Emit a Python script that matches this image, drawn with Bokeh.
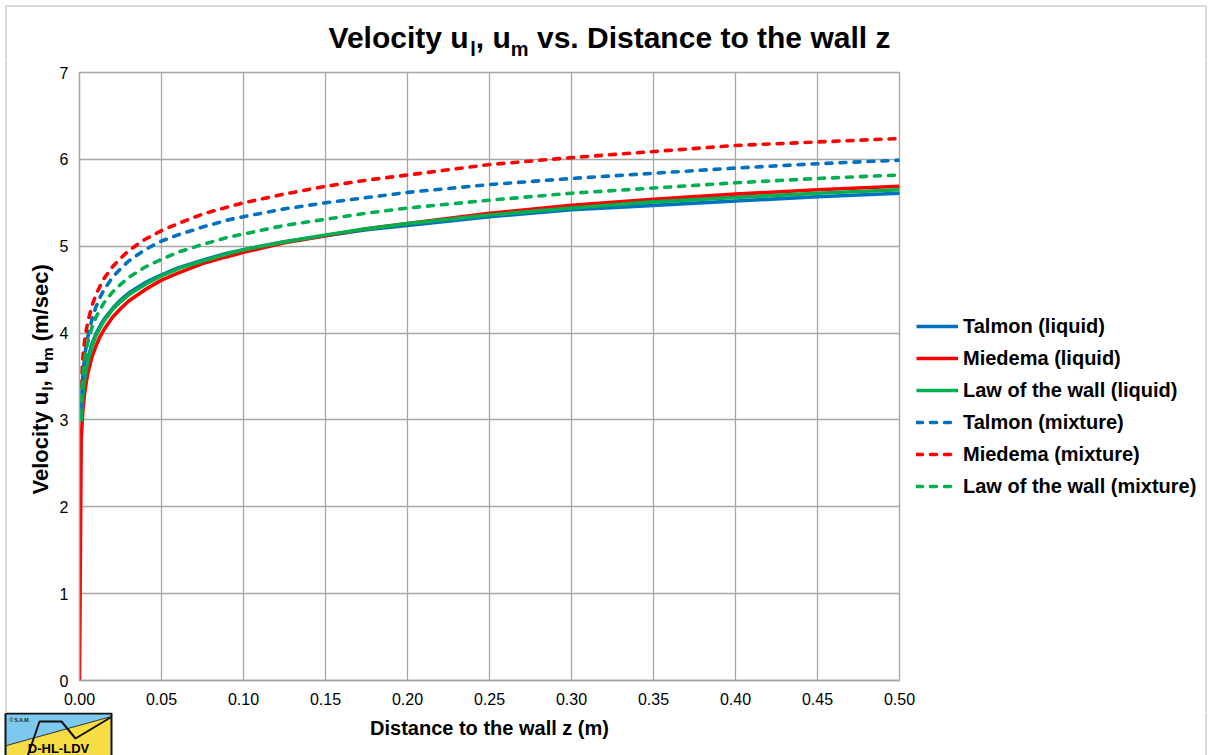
from bokeh.plotting import figure
from bokeh.layouts import column, row
from bokeh.models import Range1d, FixedTicker, NumeralTickFormatter, Legend, LegendItem, Plot
from bokeh.core.properties import value
from bokeh.embed import file_html
from bokeh.resources import INLINE

# ---------------- data ----------------
z = [0.001, 0.002, 0.003, 0.004, 0.005, 0.0075, 0.01, 0.0125, 0.015, 0.02, 0.025, 0.03,
     0.04, 0.05, 0.06, 0.075, 0.09, 0.10, 0.125, 0.15, 0.175, 0.20, 0.25, 0.30, 0.35,
     0.40, 0.45, 0.50]
z_miedema_liquid = [0.0] + z

talmon_liquid = [3.03, 3.32, 3.49, 3.61, 3.70, 3.87, 3.99, 4.08, 4.16, 4.28, 4.38, 4.46,
                 4.58, 4.67, 4.75, 4.84, 4.92, 4.96, 5.05, 5.12, 5.19, 5.24, 5.34, 5.42,
                 5.47, 5.52, 5.57, 5.61]
miedema_liquid = [0.00, 2.77, 3.10, 3.29, 3.42, 3.53, 3.72, 3.85, 3.96, 4.04, 4.18, 4.28,
                  4.37, 4.50, 4.61, 4.69, 4.80, 4.88, 4.93, 5.04, 5.12, 5.20, 5.26, 5.38,
                  5.47, 5.54, 5.60, 5.65, 5.69]
law_liquid = [2.98, 3.28, 3.45, 3.57, 3.67, 3.84, 3.97, 4.06, 4.14, 4.27, 4.36, 4.44,
              4.56, 4.66, 4.74, 4.83, 4.91, 4.96, 5.05, 5.13, 5.20, 5.26, 5.36, 5.44,
              5.51, 5.56, 5.61, 5.65]
talmon_mixture = [3.15, 3.49, 3.70, 3.84, 3.95, 4.15, 4.30, 4.41, 4.50, 4.64, 4.74, 4.83,
                  4.96, 5.06, 5.13, 5.22, 5.30, 5.34, 5.43, 5.50, 5.56, 5.62, 5.71, 5.78,
                  5.84, 5.90, 5.95, 5.99]
miedema_mixture = [3.38, 3.70, 3.89, 4.02, 4.12, 4.31, 4.44, 4.54, 4.63, 4.76, 4.86, 4.95,
                   5.08, 5.18, 5.26, 5.37, 5.45, 5.50, 5.60, 5.69, 5.76, 5.82, 5.94, 6.02,
                   6.09, 6.16, 6.20, 6.24]
law_mixture = [3.21, 3.50, 3.67, 3.79, 3.89, 4.06, 4.18, 4.27, 4.35, 4.47, 4.56, 4.64,
               4.76, 4.85, 4.93, 5.02, 5.10, 5.14, 5.24, 5.31, 5.38, 5.44, 5.53, 5.61,
               5.67, 5.73, 5.78, 5.82]

x_ticks = [0.00, 0.05, 0.10, 0.15, 0.20, 0.25, 0.30, 0.35, 0.40, 0.45, 0.50]
y_ticks = [0, 1, 2, 3, 4, 5, 6, 7]

series_labels = ["Talmon (liquid)", "Miedema (liquid)", "Law of the wall (liquid)",
                 "Talmon (mixture)", "Miedema (mixture)", "Law of the wall (mixture)"]

BLUE, RED, GREEN = "#0070C0", "#FF0000", "#00B050"
series_colors = [BLUE, RED, GREEN, BLUE, RED, GREEN]
series_dashed = [False, False, False, True, True, True]
series_z = [z, z_miedema_liquid, z, z, z, z]
series_u = [talmon_liquid, miedema_liquid, law_liquid, talmon_mixture, miedema_mixture,
            law_mixture]
GRID = "#A6A6A6"
BORDER = "#B4B4B4"
FONT = "Liberation Sans"
LW = 3.6
DASH = "6 8"

# Arial / Liberation Sans Bold advance widths (per 1000 em) for text layout
W = {" ": 278, "(": 333, ")": 333, ",": 278, ".": 278, "/": 278, "D": 722, "L": 611,
     "V": 667, "a": 556, "c": 556, "d": 611, "e": 556, "f": 333, "h": 611, "i": 278,
     "l": 278, "m": 889, "n": 611, "o": 611, "q": 611, "r": 389, "s": 556, "t": 333,
     "u": 611, "v": 556, "w": 778, "x": 556, "y": 556, "z": 500}
MID = 0.3465  # distance from alphabetic baseline to the em-box middle, in em

# vertical borders of the main chart in the middle row
B_TOP, B_BOTTOM = 12, 32
ROW_Y0, ROW_H = 60, 652          # the row spans page y 60..712
FRAME_TOP = ROW_Y0 + B_TOP       # 72
FRAME_BOTTOM = ROW_Y0 + ROW_H - B_BOTTOM  # 680
HAS_FRAME_ALIGN = "frame_align" in Plot.properties()
LEFT_W = 56


def tw(s, size):
    return sum(W.get(c, 556) for c in s) * size / 1000.0


def blank(w, x0, h, y0, in_row=False):
    """A figure without axes whose coordinates equal page pixels."""
    extra = {}
    if in_row and not HAS_FRAME_ALIGN:
        yr = Range1d(FRAME_BOTTOM, FRAME_TOP)
        borders = dict(min_border_left=0, min_border_right=0,
                       min_border_top=B_TOP, min_border_bottom=B_BOTTOM)
    else:
        yr = Range1d(y0 + h, y0)
        borders = dict(min_border=0)
        if in_row:
            extra["frame_align"] = False
    f = figure(width=w, height=h, x_range=Range1d(x0, x0 + w), y_range=yr,
               x_axis_type=None, y_axis_type=None, toolbar_location=None,
               output_backend="svg", title=None, **borders, **extra)
    f.grid.visible = False
    f.outline_line_color = None
    f.background_fill_color = "white"
    f.border_fill_color = "white"
    return f


def put_text(f, x, y, s, size, bold=True, align="left", angle=0.0, color="black"):
    f.text(x=[x], y=[y], text=[s], angle=angle, text_font=value(FONT),
           text_font_style=value("bold" if bold else "normal"),
           text_font_size=value(f"{size}px"), text_color=color,
           text_align=value(align), text_baseline=value("middle"))


def border(f, xs, ys):
    f.line(xs, ys, line_color=BORDER, line_width=1)


# ---------------- title strip (page y 0..60) ----------------
top = blank(1211, 0, 60, 0)
border(top, [5.5, 5.5, 1205.5, 1205.5], [60, 5.5, 5.5, 60])
title_parts = [("Velocity u", False), ("l", True), (", u", False), ("m", True),
               (" vs. Distance to the wall z", False)]
T_MAIN, T_SUB = 30, 20
total = sum(tw(s, T_SUB if sub else T_MAIN) for s, sub in title_parts)
xpos = 609 - total / 2
for s, sub in title_parts:
    size = T_SUB if sub else T_MAIN
    base = 55 if sub else 47
    lead = len(s) - len(s.lstrip(" "))
    put_text(top, xpos + tw(" " * lead, size), base - MID * size, s.lstrip(" "), size)
    xpos += tw(s, size)

# ---------------- y-axis title strip (page x 0..56, y 60..712) ----------------
left = blank(LEFT_W, 0, ROW_H, ROW_Y0, in_row=True)
border(left, [5.5, 5.5], [60, 712])
ylab_parts = [("Velocity u", False), ("l", True), (", u", False), ("m", True), (" (m/sec)", False)]
Y_MAIN, Y_SUB = 22, 15
ypos = 494
for s, sub in ylab_parts:
    size = Y_SUB if sub else Y_MAIN
    base = 52.6 if sub else 47.5
    lead = len(s) - len(s.lstrip(" "))
    put_text(left, base - MID * size, ypos - tw(" " * lead, size), s.lstrip(" "), size,
             angle=1.5707963)
    ypos -= tw(s, size)

# ---------------- main chart (page x 56..916, y 60..712) ----------------
p = figure(width=916 - LEFT_W, height=ROW_H, output_backend="svg", toolbar_location=None,
           title=None, x_range=Range1d(0, 0.5), y_range=Range1d(0, 7),
           min_border_left=79 - LEFT_W, min_border_right=17, min_border_top=B_TOP,
           min_border_bottom=B_BOTTOM)
p.background_fill_color = "white"
p.border_fill_color = "white"
p.outline_line_color = GRID
p.outline_line_width = 1.3

for ax in (p.xaxis[0], p.yaxis[0]):
    ax.axis_line_color = GRID
    ax.axis_line_width = 1.3
    ax.major_tick_line_color = None
    ax.minor_tick_line_color = None
    ax.major_tick_out = 0
    ax.major_tick_in = 0
    ax.major_label_text_font = FONT
    ax.major_label_text_font_size = "16px"
    ax.major_label_text_color = "black"

p.xaxis.ticker = FixedTicker(ticks=x_ticks)
p.xaxis.formatter = NumeralTickFormatter(format="0.00")
p.xaxis.major_label_standoff = 12
p.yaxis.ticker = FixedTicker(ticks=y_ticks)
p.yaxis.major_label_standoff = 79 - LEFT_W - 12

p.xgrid.ticker = FixedTicker(ticks=x_ticks)
p.ygrid.ticker = FixedTicker(ticks=y_ticks)
for g in (p.xgrid[0], p.ygrid[0]):
    g.grid_line_color = GRID
    g.grid_line_width = 1.3

for zz, uu, col, dashed in zip(series_z, series_u, series_colors, series_dashed):
    if dashed:
        p.line(zz, uu, line_color=col, line_width=LW, line_dash=DASH, line_cap="round")
    else:
        p.line(zz, uu, line_color=col, line_width=LW)

# ---------------- legend strip (page x 916..1211, y 60..712) ----------------
# the legend needs renderers of its own plot: the same series, which fall outside
# this strip's visible range, so only their legend samples show
lg = blank(295, 916, ROW_H, ROW_Y0, in_row=True)
border(lg, [1205.5, 1205.5], [60, 712])
items = []
for lab, zz, uu, col, dashed in zip(series_labels, series_z, series_u, series_colors,
                                    series_dashed):
    if dashed:
        r = lg.line(zz, uu, line_color=col, line_width=LW, line_dash=DASH, line_cap="round")
    else:
        r = lg.line(zz, uu, line_color=col, line_width=LW)
    items.append(LegendItem(label=lab, renderers=[r]))
legend_bottom = 498  # page y of the legend's lower edge
frame_bottom_lg = FRAME_BOTTOM if not HAS_FRAME_ALIGN else ROW_Y0 + ROW_H
legend = Legend(items=items, location=(0, frame_bottom_lg - legend_bottom))
legend.label_text_font = FONT
legend.label_text_font_style = "bold"
legend.label_text_font_size = "20px"
legend.label_text_color = "black"
legend.glyph_width = 42
legend.glyph_height = 24
legend.label_height = 24
legend.label_standoff = 5
legend.spacing = 8
legend.padding = 0
legend.margin = 0
legend.border_line_color = None
legend.background_fill_alpha = 0
lg.add_layout(legend)

# ---------------- bottom strip: x-axis title and logo (page y 712..755) ----------------
bottom = blank(1211, 0, 43, 712)
border(bottom, [1205.5, 1205.5], [712, 756])
put_text(bottom, 489, 734 - MID * 20, "Distance to the wall z (m)", 20, align="center")
# logo "D-HL-LDV"
bottom.patch([5, 111, 111, 5], [713, 713, 756, 756], fill_color="#7CC8EE", line_color=None)
bottom.patch([6, 111, 111, 6], [745, 716, 756, 756], fill_color="#F6DC45", line_color=None)
bottom.line([6, 111], [745, 716], line_color="#333333", line_width=1)
bottom.line([27, 39, 61, 75, 110], [756, 721, 721, 738, 717], line_color="#111111", line_width=2)
bottom.line([5, 111, 111, 5, 5], [713, 713, 756, 756, 713], line_color="#111111", line_width=2)
put_text(bottom, 58, 753 - MID * 13, "D-HL-LDV", 13, align="center")
put_text(bottom, 9, 721 - MID * 5, "© S.A.M.", 5, color="#222222")

layout = column(top, row(left, p, lg), bottom)
open("out.html", "w").write(file_html(layout, INLINE))
